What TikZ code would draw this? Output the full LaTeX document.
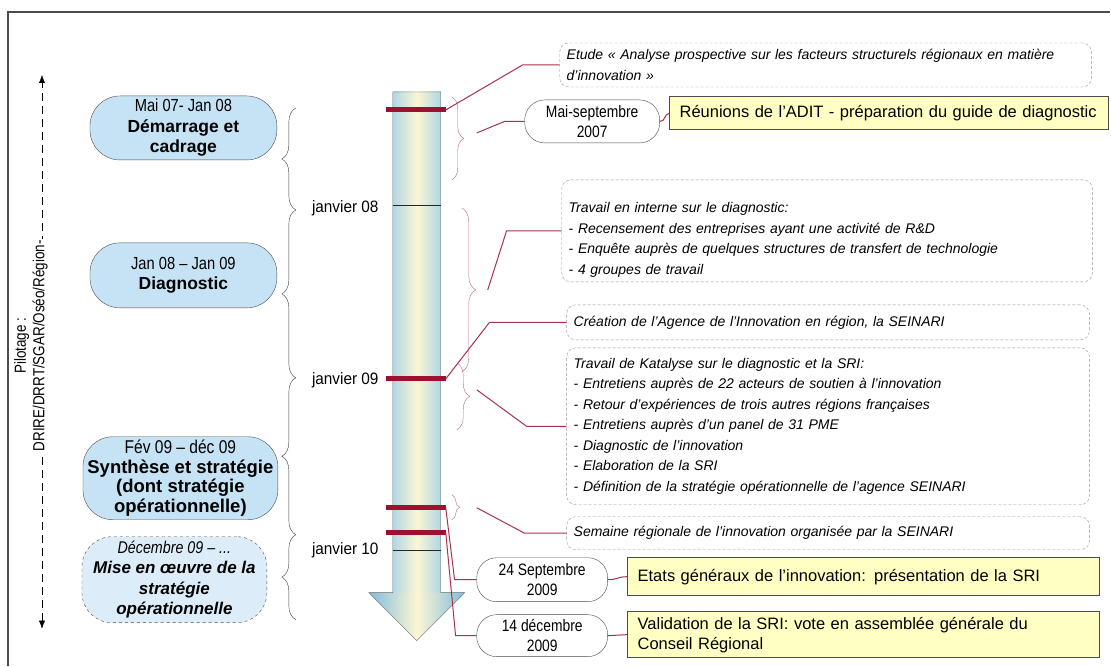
\documentclass[tikz,border=0pt]{standalone}
\usepackage{fontspec}
\setmainfont{Liberation Sans}
\newfontfamily\narrowfont[FakeStretch=0.84]{Liberation Sans}
\newfontfamily\condfont[FakeStretch=0.93]{Liberation Sans}
\usepackage{tikz}
\usetikzlibrary{calc}
\usetikzlibrary{arrows.meta}
\usetikzlibrary{decorations.pathreplacing}
\definecolor{phaseblue}{RGB}{197,227,245}
\definecolor{phaselight}{RGB}{220,237,249}
\definecolor{noteyellow}{RGB}{255,255,196}
\definecolor{barred}{RGB}{158,16,48}
\definecolor{linkred}{RGB}{168,50,76}
\definecolor{bracepink}{RGB}{185,105,118}
\definecolor{notegray}{RGB}{150,150,150}
\definecolor{shaftblue}{RGB}{176,214,228}
\definecolor{headblue}{RGB}{128,188,222}
\definecolor{shaftcream}{RGB}{253,246,212}
\newcommand{\tlbar}[2] {
\draw[barred, line width=5pt] (386,#1) -- (446,#1) coordinate (#2);
}
\newcommand{\phasebrace}[2] {
\draw[black!75, decorate, decoration={brace, amplitude=14pt}] (296,#2) -- (296,#1);
}
\newcommand{\eventbrace}[4] {
\draw[bracepink, decorate, decoration={brace, amplitude=#4}] (#1,#2) -- (#1,#3);
}

\begin{document}
\begin{tikzpicture}[x=1pt, y=-1pt,
    phase/.style={draw=black!70, fill=phaseblue, rounded corners=30pt, align=center, inner sep=0pt},
    pill/.style={draw=black!70, fill=white, rounded corners=20pt, align=center, inner sep=0pt,
      font=\narrowfont\fontsize{16.5}{20}\selectfont},
    note/.style={draw=notegray, dash pattern=on 3pt off 2pt, rounded corners=9pt, align=left,
      inner xsep=7pt, inner ysep=2pt, font=\itshape\fontsize{14}{20.5}\selectfont},
    yellowbox/.style={draw=black!70, line width=1pt, fill=noteyellow, align=left,
      inner xsep=10pt, inner ysep=2pt, font=\fontsize{16.5}{20}\selectfont},
    datelabel/.style={anchor=west, inner sep=0pt, font=\condfont\fontsize{16.5}{20}\selectfont},
    link/.style={linkred, line width=1pt}]
  \fill[white] (0,0) rectangle (1111,666);
  \draw[black!70, line width=1.2pt] (8,666) -- (8,12) -- (1111,12);

  % pilotage
  \draw[dash pattern=on 8pt off 5pt, {Latex[length=8pt,width=6pt]}-{Latex[length=8pt,width=6pt]}] (42,629) -- (42,75);
  \node[rotate=90, fill=white, align=center, inner sep=1pt,
    font=\narrowfont\fontsize{16}{18.5}\selectfont] (pilotage) at (31,346) {Pilotage :\\DRIRE/DRRT/SGAR/Oséo/Région-};

  % phases
  \node[phase, minimum width=187, minimum height=64, font=\fontsize{17.5}{20.5}\selectfont] (demarrage) at (183.5,128)
    {{\narrowfont Mai 07- Jan 08}\\\textbf{Démarrage et}\\\textbf{cadrage}};
  \node[phase, minimum width=187, minimum height=65, font=\fontsize{17.5}{20.5}\selectfont] (diagnostic) at (183.5,275.5)
    {{\narrowfont Jan 08 – Jan 09}\\\textbf{Diagnostic}};
  \node[phase, minimum width=195, minimum height=83, font=\fontsize{18.5}{19.7}\selectfont] (synthese) at (180.5,478.5)
    {{\narrowfont Fév 09 – déc 09}\\\textbf{Synthèse et stratégie}\\\textbf{(dont stratégie}\\\textbf{opérationnelle)}};
  \node[phase, dashed, fill=phaselight, minimum width=185, minimum height=86, font=\itshape\fontsize{17}{20.5}\selectfont] (miseenoeuvre) at (174.5,580)
    {{\narrowfont Décembre 09 – ...}\\\textbf{Mise en œuvre de la}\\\textbf{stratégie}\\\textbf{opérationnelle}};

  \phasebrace{108}{210}
  \phasebrace{210}{378}
  \phasebrace{378}{535}
  \phasebrace{535}{620}

  \node[datelabel] (jan08) at (312,208) {janvier 08};
  \node[datelabel] (jan09) at (312,380) {janvier 09};
  \node[datelabel] (jan10) at (312,551) {janvier 10};

  % timeline
  \shade[left color=shaftblue, right color=shaftblue, middle color=shaftcream] (393,92) rectangle (441,593.5);
  \shade[left color=headblue, right color=headblue, middle color=shaftcream]
    (369,593) -- (465,593) -- (417,641) -- cycle;
  \draw[black!60] (393,92) -- (441,92) -- (441,593) -- (465,593) -- (417,641) -- (369,593) -- (393,593) -- cycle;
  \draw[black!85] (393,205) -- (441,205);
  \draw[black!85] (393,550) -- (441,550);
  \tlbar{110}{bar1}
  \tlbar{379}{bar2}
  \tlbar{508}{bar3}
  \tlbar{533}{bar4}

  \eventbrace{452}{97}{180}{12pt}
  \eventbrace{462}{208}{372}{14pt}
  \eventbrace{457}{363}{430}{13pt}
  \eventbrace{452}{495}{520}{8pt}
  \coordinate (b1) at (477,133);
  \coordinate (b2) at (488,290);
  \coordinate (b3) at (477,390);
  \coordinate (b4) at (477,508);

  % events
  \node[note, text width=518, minimum height=44] (etude) at (826,65)
    {Etude « Analyse prospective sur les facteurs structurels régionaux en matière\\d’innovation »};
  \node[pill, minimum width=135, minimum height=43] (mai) at (592.5,121.5) {Mai-septembre\\2007};
  \node[yellowbox, text width=419, minimum height=33] (reunions) at (889.5,113.5)
    {Réunions de l’ADIT - préparation du guide de diagnostic};
  \node[note, text width=517, minimum height=102] (travail) at (827.5,231)
    {\rule{0pt}{28pt}Travail en interne sur le diagnostic:\\- Recensement des entreprises ayant une activité de R\&D\\- Enquête auprès de quelques structures de transfert de technologie\\- 4 groupes de travail};
  \node[note, text width=509, minimum height=35] (creation) at (828.5,322.5)
    {Création de l’Agence de l’Innovation en région, la SEINARI};
  \node[note, text width=509, minimum height=157] (katalyse) at (828.5,426.5)
    {Travail de Katalyse sur le diagnostic et la SRI:\\- Entretiens auprès de 22 acteurs de soutien à l’innovation\\- Retour d’expériences de trois autres régions françaises\\- Entretiens auprès d’un panel de 31 PME\\- Diagnostic de l’innovation\\- Elaboration de la SRI\\- Définition de la stratégie opérationnelle de l’agence SEINARI};
  \node[note, text width=509, minimum height=33] (semaine) at (828.5,533.5)
    {Semaine régionale de l’innovation organisée par la SEINARI};
  \node[pill, minimum width=131, minimum height=44] (sept) at (542.5,580) {24 Septembre\\2009};
  \node[yellowbox, text width=452, minimum height=38] (etats) at (864,577)
    {Etats généraux de l’innovation: présentation de la SRI};
  \node[pill, minimum width=131, minimum height=42] (dec) at (542.5,636) {14 décembre\\2009};
  \node[yellowbox, text width=452, minimum height=46] (validation) at (864,635)
    {Validation de la SRI: vote en assemblée générale du\\Conseil Régional};

  % connectors
  \draw[link] (bar1) -- ([xshift=-37pt]etude.west) -- (etude.west);
  \draw[link] (b1) -- ([xshift=-20pt]mai.west) -- (mai.west);
  \draw[link] (b2) -- ([xshift=-55pt]travail.west) -- (travail.west);
  \draw[link] (bar2) -- ([xshift=-77pt]creation.west) -- (creation.west);
  \draw[link] (b3) -- ([xshift=-40pt]katalyse.west) -- (katalyse.west);
  \draw[link] (b4) -- ([xshift=-42pt]semaine.west) -- (semaine.west);
  \draw[link] (bar3) -- ([xshift=-22pt]sept.west) -- (sept.west);
  \draw[link] (bar4) -- ([xshift=-21pt]dec.west) -- (dec.west);
  \draw[link] (mai.east) .. controls +(6,0) and +(-5,0) .. (reunions.west);
  \draw[link] (sept.east) .. controls +(10,0) and +(-10,0) .. (etats.west);
  \draw[link] (dec.east) .. controls +(10,0) and +(-10,0) .. (validation.west);
\end{tikzpicture}
\end{document}
